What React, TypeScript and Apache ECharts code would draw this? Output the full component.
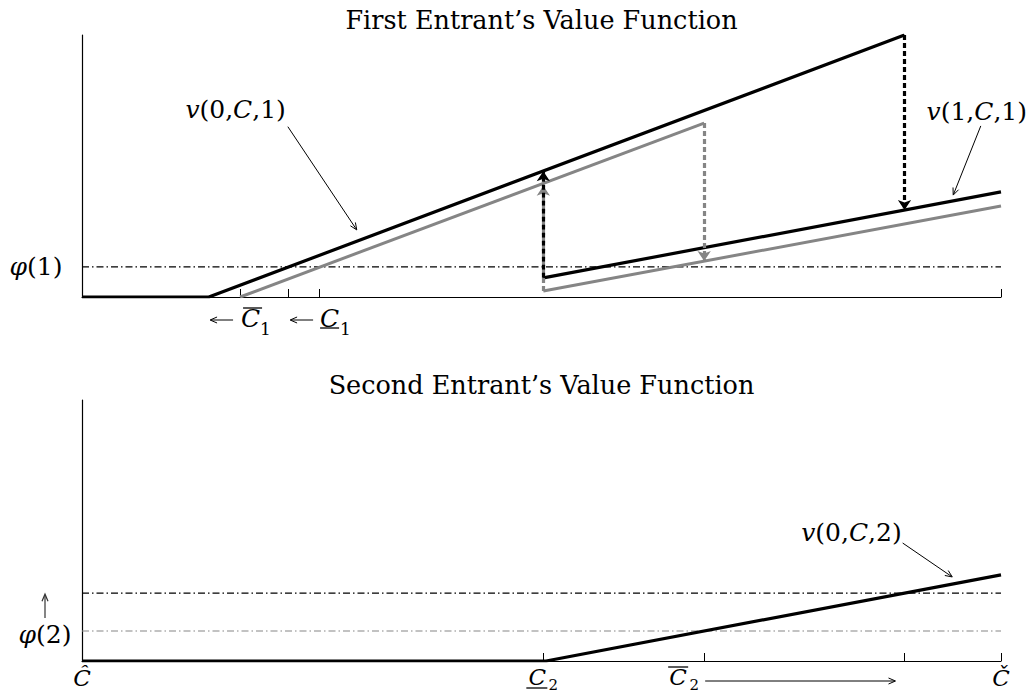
import React, { useEffect, useRef } from "react";
import * as echarts from "echarts";

const FONT = '"DejaVu Serif", "Liberation Serif", serif';
const BLACK = "#000000";
const GRAY = "#858585";
const DASHDOT = [7, 3, 1.5, 3];

// ---------- Top panel: First Entrant's Value Function ----------
const topTitle = "First Entrant\u2019s Value Function";
const topTicks = [17.2, 22.4, 25.8, 100];
const v0c1Black = [[0, 0], [13.8, 0], [89.5, 100]];
const v0c1Gray = [[17.2, 0], [67.7, 66.4]];
const v1c1Black = [[50.2, 7.3], [100, 40.1]];
const v1c1Gray = [[50.2, 2.3], [100, 34.7]];
const phi1Level = 11.5;
const topJumpsGray = [
  [[50.2, 2.3], [50.2, 42.5]],
  [[67.7, 66.4], [67.7, 13.7]],
];
const topJumpsBlack = [
  [[50.2, 7.3], [50.2, 48]],
  [[89.5, 100], [89.5, 33.2]],
];

// ---------- Bottom panel: Second Entrant's Value Function ----------
const bottomTitle = "Second Entrant\u2019s Value Function";
const bottomTicks = [50.2, 67.7, 89.5, 100];
const v0c2Black = [[0, 0], [50.5, 0], [100, 33]];
const phi2GrayLevel = 11.5;
const phi2BlackLevel = 26;

function lineSeries(name: string, data: number[][], gi: number, color: string, width: number, type: any = "solid", z = 3) {
  return {
    name,
    type: "line",
    xAxisIndex: gi,
    yAxisIndex: gi,
    data,
    symbol: "none",
    showSymbol: false,
    lineStyle: { color, width, type },
    itemStyle: { color },
    z,
    silent: true,
  };
}

function jumpSeries(name: string, segs: number[][][], gi: number, color: string, z: number) {
  return {
    name,
    type: "lines",
    coordinateSystem: "cartesian2d",
    xAxisIndex: gi,
    yAxisIndex: gi,
    data: segs.map((c) => ({ coords: c })),
    symbol: ["none", "arrow"],
    symbolSize: 10,
    lineStyle: { color, width: 3.2, type: [5, 3], opacity: 1, curveness: 0 },
    z,
    silent: true,
  };
}

function axisX(gi: number, ticks: number[]) {
  return {
    type: "value",
    gridIndex: gi,
    min: 0,
    max: 100,
    axisLine: { show: true, onZero: false, lineStyle: { color: BLACK, width: 1.2 } },
    axisTick: { show: true, inside: true, length: 8, customValues: ticks, lineStyle: { color: BLACK, width: 1 } },
    axisLabel: { show: false },
    splitLine: { show: false },
  };
}

function axisY(gi: number) {
  return {
    type: "value",
    gridIndex: gi,
    min: 0,
    max: 100,
    axisLine: { show: true, onZero: false, lineStyle: { color: BLACK, width: 1.2 } },
    axisTick: { show: false },
    axisLabel: { show: false },
    splitLine: { show: false },
  };
}

function txt(x: number, y: number, text: string, opts: any = {}) {
  const align = opts.align || "center";
  const valign = opts.valign || "middle";
  const size = opts.size || 24;
  return {
    type: "text",
    x,
    y,
    silent: true,
    z: 100,
    style: {
      text,
      fill: opts.fill || BLACK,
      fontFamily: FONT,
      fontSize: size,
      fontStyle: opts.italic ? "italic" : "normal",
      align,
      verticalAlign: valign,
      textAlign: align,
      textVerticalAlign: valign,
      rich: {
        i: { fontStyle: "italic", fontFamily: FONT, fontSize: size, fill: opts.fill || BLACK },
      },
    },
  };
}

function seg(x1: number, y1: number, x2: number, y2: number, color = BLACK, w = 1) {
  return { type: "line", silent: true, z: 100, shape: { x1, y1, x2, y2 }, style: { stroke: color, lineWidth: w } };
}

function arrow(x1: number, y1: number, x2: number, y2: number, color = BLACK, w = 1, head = 7, half = 3) {
  const dx = x2 - x1;
  const dy = y2 - y1;
  const len = Math.sqrt(dx * dx + dy * dy) || 1;
  const ux = dx / len;
  const uy = dy / len;
  const bx = x2 - ux * head;
  const by = y2 - uy * head;
  const px = -uy * half;
  const py = ux * half;
  return {
    type: "group",
    children: [
      seg(x1, y1, x2 - ux * 1, y2 - uy * 1, color, w),
      {
        type: "polyline",
        silent: true,
        z: 100,
        shape: { points: [[bx + px, by + py], [x2, y2], [bx - px, by - py]] },
        style: { stroke: color, lineWidth: w, fill: "none" },
      },
    ],
  };
}

export default function App() {
  const ref = useRef<HTMLDivElement>(null);

  useEffect(() => {
    if (!ref.current) return;
    const chart = echarts.init(ref.current, null, { renderer: "svg" });
    const option: any = {
      animation: false,
      backgroundColor: "#ffffff",
      grid: [
        { left: 82, width: 919, top: 35, height: 262 },
        { left: 82, width: 919, top: 400, height: 261 },
      ],
      xAxis: [axisX(0, topTicks), axisX(1, bottomTicks)],
      yAxis: [axisY(0), axisY(1)],
      series: [
        lineSeries("phi(1)", [[0, phi1Level], [100, phi1Level]], 0, BLACK, 1.2, DASHDOT, 2),
        lineSeries("v(0,C,1) gray", v0c1Gray, 0, GRAY, 3, "solid", 3),
        lineSeries("v(1,C,1) gray", v1c1Gray, 0, GRAY, 3, "solid", 3),
        lineSeries("v(0,C,1)", v0c1Black, 0, BLACK, 3.2, "solid", 4),
        lineSeries("v(1,C,1)", v1c1Black, 0, BLACK, 3.2, "solid", 4),
        jumpSeries("jumps gray", topJumpsGray, 0, GRAY, 5),
        jumpSeries("jumps black", topJumpsBlack, 0, BLACK, 6),
        lineSeries("phi(2) gray", [[0, phi2GrayLevel], [100, phi2GrayLevel]], 1, GRAY, 1.2, DASHDOT, 2),
        lineSeries("phi(2) black", [[0, phi2BlackLevel], [100, phi2BlackLevel]], 1, BLACK, 1.2, DASHDOT, 2),
        lineSeries("v(0,C,2)", v0c2Black, 1, BLACK, 3.2, "solid", 4),
      ],
    };
    chart.setOption(option);

    const P = (gi: number, x: number, y: number) =>
      chart.convertToPixel({ xAxisIndex: gi, yAxisIndex: gi } as any, [x, y]) as number[];

    const g: any[] = [];
    const [ax, topY] = P(0, 0, 100);
    const axisY0 = P(0, 0, 0)[1];
    const top2 = P(1, 0, 100)[1];
    const axisY1 = P(1, 0, 0)[1];
    const midX = P(0, 50, 0)[0];

    // titles
    g.push(txt(midX, topY - 15, topTitle, { size: 25.5 }));
    g.push(txt(midX, top2 - 15, bottomTitle, { size: 25.5 }));

    // phi(1)
    const phi1Y = P(0, 0, phi1Level)[1];
    g.push(txt(ax - 46, phi1Y, "{i|\u03c6}(1)", { size: 25 }));

    // C-bar_1 label with left arrow
    const t1 = P(0, topTicks[0], 0)[0];
    g.push(arrow(t1 - 7, axisY0 + 23, t1 - 30, axisY0 + 23));
    g.push(txt(t1 + 1, axisY0 + 21, "C", { italic: true, align: "left", size: 25 }));
    g.push(seg(t1 + 3, axisY0 + 11, t1 + 22, axisY0 + 11, BLACK, 1.3));
    g.push(txt(t1 + 20, axisY0 + 32, "1", { size: 17, align: "left" }));

    // C_1 (underlined) label with left arrow
    const t2 = P(0, topTicks[2], 0)[0];
    g.push(arrow(t2 - 6, axisY0 + 23, t2 - 29, axisY0 + 23));
    g.push(txt(t2 + 1, axisY0 + 21, "C", { italic: true, align: "left", size: 25 }));
    g.push(seg(t2 + 1, axisY0 + 31, t2 + 20, axisY0 + 31, BLACK, 1.3));
    g.push(txt(t2 + 21, axisY0 + 32, "1", { size: 17, align: "left" }));

    // v(0,C,1) annotation
    const a1s = P(0, 22.4, 65.0);
    const a1e = P(0, 29.9, 25.6);
    g.push(arrow(a1s[0], a1s[1], a1e[0], a1e[1]));
    g.push(txt(a1s[0] - 2, a1s[1] - 17, "{i|v}(0,{i|C},1)", { align: "right", size: 25 }));

    // v(1,C,1) annotation
    const a2s = P(0, 97.8, 65.3);
    const a2e = P(0, 94.8, 38.9);
    g.push(arrow(a2s[0], a2s[1], a2e[0], a2e[1]));
    g.push(txt(a2s[0] - 4, a2s[1] - 14, "{i|v}(1,{i|C},1)", { size: 25 }));

    // bottom: phi(2) with up arrow
    const phi2Y = P(1, 0, phi2GrayLevel)[1];
    const phi2bY = P(1, 0, phi2BlackLevel)[1];
    g.push(txt(ax - 37, phi2Y + 4, "{i|\u03c6}(2)", { size: 25 }));
    g.push(arrow(ax - 37, phi2Y - 13, ax - 37, phi2bY + 1, "#333333", 1.2));

    // bottom tick labels
    g.push(txt(ax, axisY1 + 17, "\u0108", { italic: true, size: 23 }));
    const b1 = P(1, bottomTicks[0], 0)[0];
    g.push(txt(b1 - 6, axisY1 + 16, "C", { italic: true, size: 23 }));
    g.push(seg(b1 - 17, axisY1 + 27, b1 + 4, axisY1 + 27, BLACK, 1.3));
    g.push(txt(b1 + 10, axisY1 + 24, "2", { size: 15 }));

    const b2 = P(1, bottomTicks[1], 0)[0];
    const b3 = P(1, bottomTicks[2], 0)[0];
    g.push(txt(b2 - 26, axisY1 + 16, "C", { italic: true, size: 23 }));
    g.push(seg(b2 - 36, axisY1 + 6, b2 - 16, axisY1 + 6, BLACK, 1.3));
    g.push(txt(b2 - 10, axisY1 + 24, "2", { size: 15 }));
    g.push(arrow(b2 + 1, axisY1 + 20, b3 - 9, axisY1 + 20));

    const b4 = P(1, bottomTicks[3], 0)[0];
    g.push(txt(b4, axisY1 + 17, "\u010c", { italic: true, size: 23 }));

    // v(0,C,2) annotation
    const a3s = P(1, 89.3, 45.2);
    const a3e = P(1, 94.7, 32.2);
    g.push(arrow(a3s[0], a3s[1], a3e[0], a3e[1]));
    g.push(txt(a3s[0] - 1, a3s[1] - 11, "{i|v}(0,{i|C},2)", { align: "right", size: 25 }));

    chart.setOption({ graphic: { elements: g } });

    return () => chart.dispose();
  }, []);

  return (
    <div
      ref={ref}
      style={{ position: "fixed", left: 0, top: 0, width: 1034, height: 693, background: "#fff" }}
    />
  );
}
